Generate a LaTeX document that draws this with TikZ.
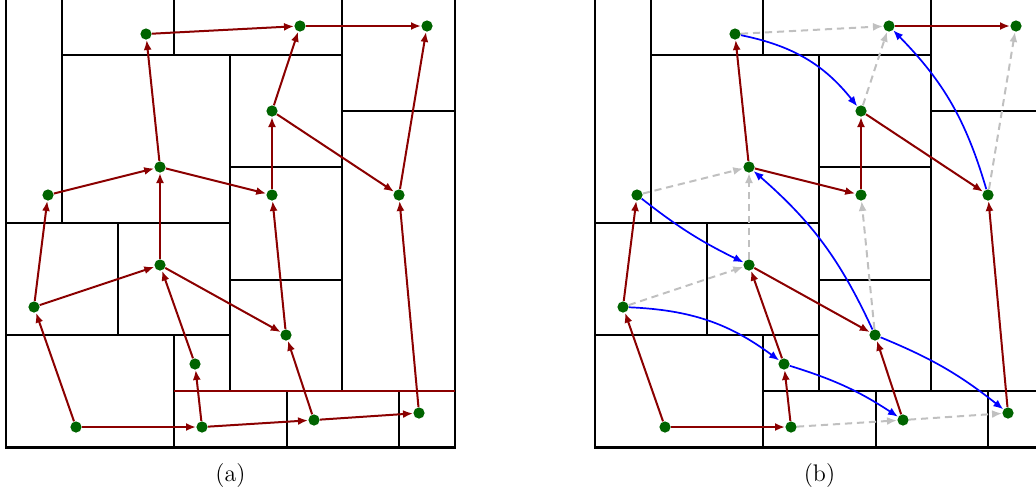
\documentclass[tikz,border=0pt]{standalone}
\usetikzlibrary{arrows.meta}
\definecolor{dkred}{RGB}{139,0,0}
\definecolor{dkgreen}{RGB}{0,100,0}
\definecolor{ltgray}{RGB}{192,192,192}
\newcommand{\mycells}{%
  \draw[cell] (62,-1) -- (62,223);
  \draw[cell] (174,-1) -- (174,55);
  \draw[cell] (62,55) -- (342,55);
  \draw[cell] (342,-1) -- (342,391);
  \draw[cell] (342,111) -- (455,111);
  \draw[cell] (230,55) -- (230,391);
  \draw[cell] (230,167) -- (342,167);
  \draw[cell] (6,223) -- (230,223);
  \draw[cell] (118,223) -- (118,335);
  \draw[cell] (6,335) -- (230,335);
  \draw[cell] (174,335) -- (174,447);
  \draw[cell] (230,280) -- (342,280);
  \draw[cell] (287,391) -- (287,447);
  \draw[cell] (399,391) -- (399,447);
  \draw[frame] (6,-1) rectangle (455,447.5);
}
\begin{document}
\begin{tikzpicture}[x=0.5pt,y=-0.5pt,
  cell/.style={draw=black,line width=0.6pt},
  frame/.style={draw=black,line width=1.4pt},
  dot/.style={circle,fill=dkgreen,inner sep=0pt,minimum size=5.6pt},
  tipstyle/.style={-{Latex[length=5pt,width=4pt]}},
  redge/.style={draw=dkred,line width=1pt,tipstyle},
  gedge/.style={draw=ltgray,line width=1pt,dash pattern=on 3.6pt off 2.4pt,tipstyle},
  bedge/.style={draw=blue,line width=0.85pt,tipstyle},
  lbl/.style={font=\large,anchor=base,inner sep=0pt}]
\useasboundingbox (0,0) rectangle (1036,495);

% ---------- panel (a) ----------
\mycells
\draw[dkred,line width=0.9pt] (174,391) -- (455,391);
\foreach \n/\x/\y in {1/146/34,2/300/26,3/427/26,4/272/111,5/160/167,6/48/195,7/272/195,8/399/195,
  9/34/307,10/160/265,11/195/364,12/76/427,13/202/427,14/286/335,15/314/420,16/419/413}
  \node[dot] (a\n) at (\x,\y) {};
\draw[redge] (a1) -- (a2);
\draw[redge] (a2) -- (a3);
\draw[redge] (a4) -- (a2);
\draw[redge] (a5) -- (a1);
\draw[redge] (a4) -- (a8);
\draw[redge] (a8) -- (a3);
\draw[redge] (a6) -- (a5);
\draw[redge] (a5) -- (a7);
\draw[redge] (a7) -- (a4);
\draw[redge] (a9) -- (a6);
\draw[redge] (a10) -- (a5);
\draw[redge] (a9) -- (a10);
\draw[redge] (a10) -- (a14);
\draw[redge] (a11) -- (a10);
\draw[redge] (a12) -- (a9);
\draw[redge] (a12) -- (a13);
\draw[redge] (a13) -- (a11);
\draw[redge] (a13) -- (a15);
\draw[redge] (a15) -- (a14);
\draw[redge] (a15) -- (a16);
\draw[redge] (a14) -- (a7);
\draw[redge] (a16) -- (a8);
\node[lbl] (la) at (230.5,481) {(a)};

% ---------- panel (b) ----------
\begin{scope}[xshift=294.5pt]
\mycells
\draw[cell] (174,391) -- (455,391);
\foreach \n/\x/\y in {1/146/34,2/300/26,3/427/26,4/272/111,5/160/167,6/48/195,7/272/195,8/399/195,
  9/34/307,10/160/265,11/195/364,12/76/427,13/202/427,14/286/335,15/314/420,16/419/413}
  \node[dot] (b\n) at (\x,\y) {};
\draw[gedge] (b1) -- (b2);
\draw[gedge] (b4) -- (b2);
\draw[gedge] (b8) -- (b3);
\draw[gedge] (b6) -- (b5);
\draw[gedge] (b10) -- (b5);
\draw[gedge] (b9) -- (b10);
\draw[gedge] (b14) -- (b7);
\draw[gedge] (b13) -- (b15);
\draw[gedge] (b15) -- (b16);
\draw[redge] (b2) -- (b3);
\draw[redge] (b5) -- (b1);
\draw[redge] (b4) -- (b8);
\draw[redge] (b5) -- (b7);
\draw[redge] (b7) -- (b4);
\draw[redge] (b9) -- (b6);
\draw[redge] (b10) -- (b14);
\draw[redge] (b11) -- (b10);
\draw[redge] (b12) -- (b9);
\draw[redge] (b12) -- (b13);
\draw[redge] (b13) -- (b11);
\draw[redge] (b15) -- (b14);
\draw[redge] (b16) -- (b8);
\draw[bedge] (b1) to[bend left=20] (b4);
\draw[bedge] (b8) to[bend right=14] (b2);
\draw[bedge] (b6) to[bend right=6] (b10);
\draw[bedge] (b14) to[bend right=12] (b5);
\draw[bedge] (b9) to[bend left=17] (b11);
\draw[bedge] (b11) to[bend left=8] (b15);
\draw[bedge] (b14) to[bend left=8] (b16);
\node[lbl] (lb) at (230.5,481) {(b)};
\end{scope}
\end{tikzpicture}
\end{document}
